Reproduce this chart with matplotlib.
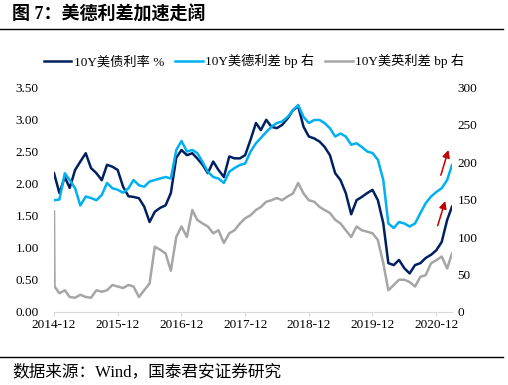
import numpy as np
import pandas as pd
import matplotlib
matplotlib.use('Agg')
import matplotlib.pyplot as plt
import matplotlib.dates as mdates

plt.rcParams['font.family'] = ['Liberation Serif', 'Noto Sans CJK SC']

# monthly points, 2014-12 .. 2021-03
dates = pd.date_range('2014-12-01', periods=76, freq='MS')

us10y = [2.16, 1.85, 2.10, 1.93, 2.21, 2.34, 2.47, 2.24, 2.16, 2.05, 2.29, 2.26,
         2.21, 1.95, 1.80, 1.79, 1.77, 1.64, 1.40, 1.56, 1.62, 1.66, 1.85, 2.40,
         2.52, 2.44, 2.47, 2.39, 2.29, 2.16, 2.34, 2.21, 2.10, 2.42, 2.39, 2.39,
         2.44, 2.68, 2.94, 2.83, 2.99, 2.88, 2.86, 2.91, 3.01, 3.14, 3.20, 2.88,
         2.73, 2.70, 2.65, 2.57, 2.44, 2.16, 2.05, 1.85, 1.52, 1.74, 1.79, 1.85,
         1.90, 1.74, 1.38, 0.76, 0.73, 0.81, 0.68, 0.60, 0.73, 0.76, 0.84, 0.89,
         0.96, 1.09, 1.43, 1.64]

us_de = [149, 150, 185, 176, 165, 142, 154, 152, 149, 156, 172, 165,
         163, 159, 165, 176, 169, 167, 174, 176, 178, 180, 178, 216,
         228, 214, 216, 212, 200, 187, 180, 178, 172, 187, 192, 196,
         198, 214, 225, 232, 240, 247, 252, 254, 260, 269, 276, 260,
         252, 256, 256, 252, 245, 234, 238, 234, 223, 225, 220, 214,
         212, 203, 176, 118, 112, 120, 118, 114, 118, 132, 145, 154,
         160, 165, 176, 196]

# first value is the opening spike on the first day
us_uk = [134, 34, 25, 29, 20, 19, 23, 20, 19, 29, 27, 29, 36,
         34, 32, 36, 34, 20, 29, 38, 87, 83, 78, 55, 100,
         114, 100, 136, 123, 118, 114, 105, 109, 92, 105, 109, 118,
         125, 129, 136, 140, 147, 149, 152, 149, 154, 158, 172, 158,
         149, 147, 140, 136, 132, 123, 118, 109, 100, 114, 109, 107,
         105, 96, 65, 29, 36, 43, 43, 40, 34, 47, 49, 65,
         69, 74, 58, 78]
uk_dates = dates.insert(1, pd.Timestamp('2014-12-04'))

tick_labels = ['2014-12', '2015-12', '2016-12', '2017-12', '2018-12', '2019-12', '2020-12']
tick_dates = pd.to_datetime([s + '-01' for s in tick_labels])

navy = '#002060'
sky = '#00B0F0'
grey = '#A6A6A6'

fig = plt.figure(figsize=(5.08, 3.85), dpi=100)
ax = fig.add_axes([54/508, 1-312/385, 398/508, 225/385])
ax2 = ax.twinx()

l1, = ax.plot(dates, us10y, color=navy, lw=1.8, label='10Y美债利率 %')
l2, = ax2.plot(dates, us_de, color=sky, lw=1.8, label='10Y美德利差 bp 右')
l3, = ax2.plot(uk_dates, us_uk, color=grey, lw=1.8, label='10Y美英利差 bp 右')

ax.set_xlim(dates[0], dates[-1])
ax.set_ylim(0, 3.5)
ax2.set_ylim(0, 300)
ax.set_yticks(np.arange(0, 3.51, 0.5))
ax.set_yticklabels(['%.2f' % v for v in np.arange(0, 3.51, 0.5)])
ax2.set_yticks(np.arange(0, 301, 50))
ax.set_xticks(tick_dates)
ax.set_xticklabels(tick_labels)

for a in (ax, ax2):
    for s in ['top', 'left', 'right']:
        a.spines[s].set_visible(False)
    a.spines['bottom'].set_color('#D9D9D9')
ax2.spines['bottom'].set_visible(False)
ax.tick_params(axis='y', length=0, pad=11, labelsize=9.5)
ax2.tick_params(axis='y', length=0, pad=4, labelsize=9.5)
ax.tick_params(axis='x', length=3, color='#D9D9D9', pad=2, labelsize=9.5)

# red arrows
ax.annotate('', xy=(0.993, 0.732), xytext=(0.970, 0.596), xycoords='axes fraction',
            arrowprops=dict(arrowstyle='-|>', color='#C00000', lw=1.1, mutation_scale=11))
ax.annotate('', xy=(0.985, 0.505), xytext=(0.962, 0.372), xycoords='axes fraction',
            arrowprops=dict(arrowstyle='-|>', color='#C00000', lw=1.1, mutation_scale=11))

fig.legend(handles=[l1, l2, l3], loc='center', bbox_to_anchor=(0.5, 1-61/385), ncol=3,
           frameon=False, fontsize=9.5, handlelength=2.1, handletextpad=0.2,
           columnspacing=0.8)

fig.text(12/508, 1-15/385, '图 7：美德利差加速走阔', fontsize=13, fontweight='bold',
         va='center', ha='left')
fig.add_artist(plt.Line2D([0, 503/508], [1-29/385, 1-29/385], color='black', lw=1))
fig.add_artist(plt.Line2D([0, 503/508], [1-357/385, 1-357/385], color='black', lw=1))
fig.text(12/508, 1-372/385, '数据来源：Wind，国泰君安证券研究', fontsize=12,
         va='center', ha='left')

fig.savefig('out.png', dpi=100)
